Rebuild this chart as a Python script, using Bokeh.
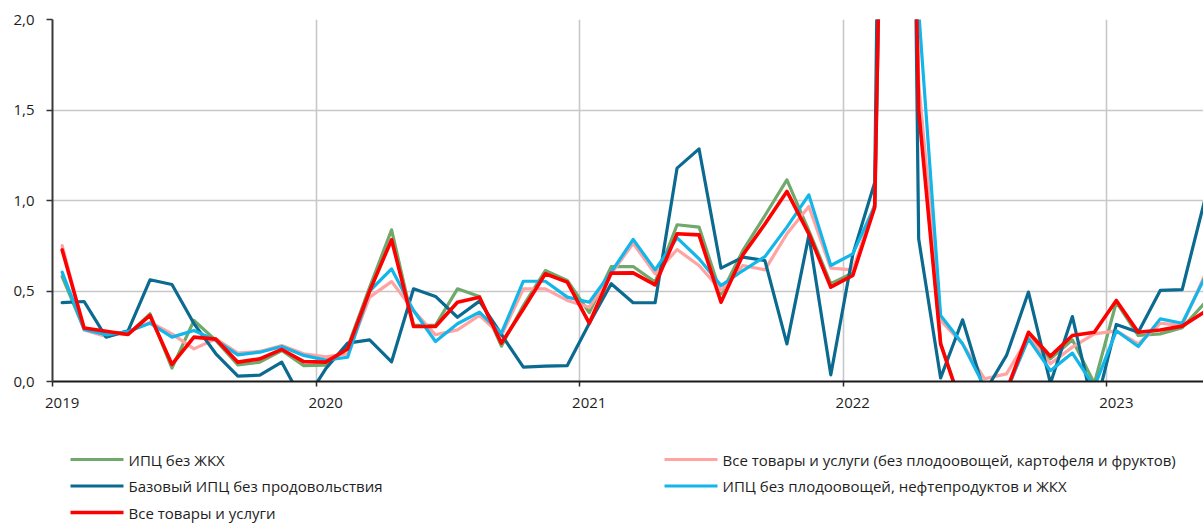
from bokeh.plotting import figure
from bokeh.layouts import column
from bokeh.models import Range1d, FixedTicker, CustomJSTickFormatter
from bokeh.core.properties import value
from bokeh.embed import file_html
from bokeh.resources import INLINE

# month index: 0 = Jan 2019 ... 52 = May 2023
months = list(range(53))
year_ticks = [0, 12, 24, 36, 48]
year_labels = ["2019", "2020", "2021", "2022", "2023"]
y_ticks = [0.0, 0.5, 1.0, 1.5, 2.0]

cpi_ex_housing = [  # ИПЦ без ЖКХ
    0.58, 0.29, 0.27, 0.26, 0.374, 0.074, 0.337, 0.227, 0.092, 0.107, 0.171, 0.088,
    0.09, 0.19, 0.52, 0.838, 0.31, 0.31, 0.512, 0.47, 0.195, 0.42, 0.613, 0.558,
    0.38, 0.635, 0.635, 0.549, 0.866, 0.853, 0.484, 0.724, 0.917, 1.114, 0.834, 0.54,
    0.60, 0.98, 7.5, 1.55, 0.21, -0.15, -0.25, -0.06, 0.254, 0.125, 0.23, -0.01,
    0.438, 0.254, 0.263, 0.297, 0.43]
core_nonfood = [  # Базовый ИПЦ без продовольствия
    0.436, 0.442, 0.245, 0.28, 0.562, 0.536, 0.32, 0.153, 0.03, 0.035, 0.107, -0.12,
    0.07, 0.212, 0.23, 0.109, 0.512, 0.47, 0.355, 0.444, 0.26, 0.079, 0.085, 0.088,
    0.32, 0.54, 0.435, 0.435, 1.179, 1.285, 0.626, 0.687, 0.668, 0.208, 0.807, 0.037,
    0.70, 1.10, 11.0, 0.788, 0.02, 0.341, -0.06, 0.144, 0.494, -0.01, 0.359, -0.17,
    0.315, 0.272, 0.503, 0.508, 0.99]
all_goods = [  # Все товары и услуги
    0.727, 0.296, 0.278, 0.26, 0.365, 0.094, 0.245, 0.234, 0.107, 0.125, 0.177, 0.11,
    0.107, 0.18, 0.5, 0.783, 0.304, 0.304, 0.438, 0.466, 0.212, 0.40, 0.595, 0.549,
    0.322, 0.599, 0.6, 0.534, 0.816, 0.81, 0.438, 0.7, 0.87, 1.05, 0.816, 0.521,
    0.586, 0.963, 7.5, 1.5, 0.208, -0.15, -0.2, -0.05, 0.272, 0.14, 0.254, 0.272,
    0.448, 0.272, 0.285, 0.306, 0.383]
all_ex_fruitveg = [  # Все товары и услуги (без плодоовощей, картофеля и фруктов)
    0.751, 0.285, 0.249, 0.273, 0.328, 0.263, 0.18, 0.236, 0.157, 0.166, 0.199, 0.153,
    0.136, 0.153, 0.466, 0.552, 0.392, 0.258, 0.285, 0.365, 0.254, 0.512, 0.512, 0.448,
    0.41, 0.595, 0.764, 0.595, 0.729, 0.641, 0.503, 0.641, 0.617, 0.816, 0.967, 0.626,
    0.617, 0.97, 7.0, 1.65, 0.337, 0.208, 0.015, 0.042, 0.245, 0.098, 0.19, 0.263,
    0.28, 0.208, 0.322, 0.31, 0.58]
cpi_ex_volatile = [  # ИПЦ без плодоовощей, нефтепродуктов и ЖКХ
    0.604, 0.287, 0.258, 0.276, 0.322, 0.245, 0.282, 0.227, 0.147, 0.162, 0.193, 0.144,
    0.118, 0.134, 0.5, 0.622, 0.392, 0.221, 0.319, 0.383, 0.267, 0.554, 0.554, 0.466,
    0.438, 0.604, 0.785, 0.617, 0.794, 0.678, 0.53, 0.613, 0.69, 0.853, 1.031, 0.641,
    0.705, 0.97, 7.0, 2.05, 0.365, 0.208, -0.03, -0.05, 0.236, 0.06, 0.157, -0.03,
    0.28, 0.193, 0.346, 0.322, 0.567]

labels = ["ИПЦ без ЖКХ",
          "Базовый ИПЦ без продовольствия",
          "Все товары и услуги",
          "Все товары и услуги (без плодоовощей, картофеля и фруктов)",
          "ИПЦ без плодоовощей, нефтепродуктов и ЖКХ"]
colors = ["#6fa96c", "#0b6a8f", "#ff0000", "#ffa3a3", "#12b6e8"]
widths = [3.2, 3.2, 3.6, 3.2, 3.2]

FONT = "Open Sans"
TXT = "#1e1e1e"
GRID_OFFSET = -0.44  # year gridlines sit slightly before January

p = figure(width=1203, height=421, output_backend="svg", toolbar_location=None,
           x_range=Range1d(-0.44, 51.97), y_range=Range1d(0, 2.0),
           min_border_left=52, min_border_right=0, min_border_top=19,
           min_border_bottom=40)
p.outline_line_color = None
p.background_fill_color = "white"
p.border_fill_color = "white"

# grid
p.xgrid.ticker = FixedTicker(ticks=[t + GRID_OFFSET for t in year_ticks[1:]])
p.ygrid.ticker = FixedTicker(ticks=y_ticks[1:])
for g in (p.xgrid, p.ygrid):
    g.grid_line_color = "#c8c8c8"
    g.grid_line_width = 1.6

# x axis
xa = p.xaxis[0]
xa.ticker = FixedTicker(ticks=year_ticks, minor_ticks=[t + GRID_OFFSET for t in year_ticks])
xa.major_label_overrides = dict(zip(year_ticks, year_labels))
xa.major_tick_line_color = None
xa.major_tick_out = 5
xa.major_tick_in = 0
xa.minor_tick_line_color = "#262626"
xa.minor_tick_line_width = 1.5
xa.minor_tick_out = 5
xa.minor_tick_in = 0
xa.axis_line_color = "#1a1a1a"
xa.axis_line_width = 2
xa.major_label_standoff = 11
xa.major_label_text_font = FONT
xa.major_label_text_font_size = "15px"
xa.major_label_text_color = TXT

# y axis
ya = p.yaxis[0]
ya.ticker = FixedTicker(ticks=y_ticks)
ya.formatter = CustomJSTickFormatter(code="return tick.toFixed(1).replace('.', ',');")
ya.major_tick_out = 6
ya.major_tick_in = 0
ya.major_tick_line_color = "#333333"
ya.major_tick_line_width = 1.5
ya.minor_tick_line_color = None
ya.axis_line_color = "#3a3a3a"
ya.axis_line_width = 2
ya.major_label_standoff = 12
ya.major_label_text_font = FONT
ya.major_label_text_font_size = "15px"
ya.major_label_text_color = TXT

common = dict(line_join="round", line_cap="round")
# draw order: green, pink, dark blue, cyan, red (red on top)
p.line(months, cpi_ex_housing, line_color=colors[0], line_width=widths[0], **common)
p.line(months, all_ex_fruitveg, line_color=colors[3], line_width=widths[3], **common)
p.line(months, core_nonfood, line_color=colors[1], line_width=widths[1], **common)
p.line(months, cpi_ex_volatile, line_color=colors[4], line_width=widths[4], **common)
p.line(months, all_goods, line_color=colors[2], line_width=widths[2], **common)

# ---- legend panel (separate figure; its frame is aligned with the chart frame,
#      so the x range spans the same pixel columns 52..1203) ----
LH = 103
leg = figure(width=1203, height=LH, output_backend="svg", toolbar_location=None,
             x_range=Range1d(52, 1203), y_range=Range1d(LH, 0),
             x_axis_location=None, y_axis_location=None,
             min_border_left=0, min_border_right=0, min_border_top=0, min_border_bottom=0)
leg.outline_line_color = None
leg.grid.visible = False
leg.background_fill_color = "white"
leg.border_fill_color = "white"

col_x = [70, 70, 70, 664, 664]
row_y = [38, 64.5, 91, 38, 64.5]
glyph_w = 53
leg.segment(x0=col_x, y0=row_y, x1=[x + glyph_w for x in col_x], y1=row_y,
            line_color=colors, line_width=widths)
leg.text(x=[x + glyph_w + 5 for x in col_x], y=row_y, text=labels,
         text_font=value(FONT), text_font_size=value("15px"),
         text_baseline="middle", text_align="left", text_color=TXT)

layout = column(p, leg, spacing=0)

html = file_html(layout, INLINE, "chart")
with open("out.html", "w", encoding="utf-8") as f:
    f.write(html)
